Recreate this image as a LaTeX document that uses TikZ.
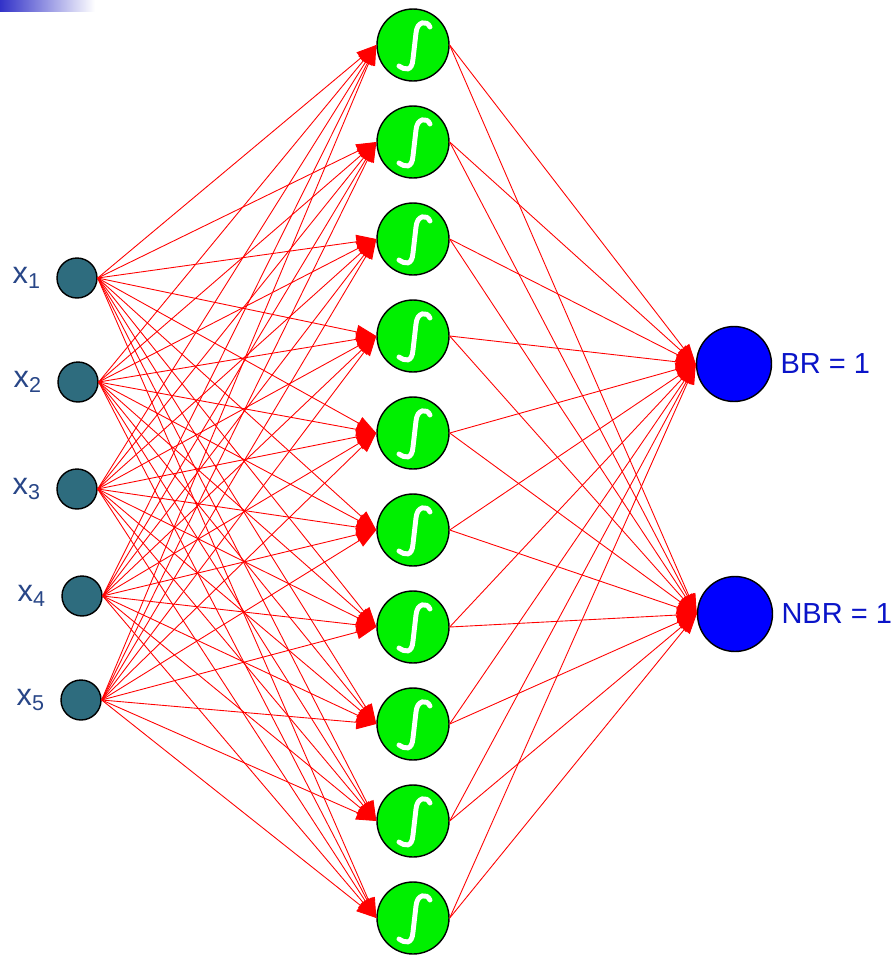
\documentclass[tikz,border=0pt]{standalone}
\usepackage{fontspec}
\setmainfont{Liberation Sans}
\usetikzlibrary{arrows.meta,positioning}

\definecolor{inteal}{RGB}{46,108,126}
\definecolor{inlabel}{RGB}{40,70,135}
\definecolor{hidgreen}{RGB}{0,240,0}
\definecolor{outblue}{RGB}{0,0,255}
\definecolor{outlabel}{RGB}{10,20,200}
\definecolor{barblue}{RGB}{50,50,200}

\begin{document}
\begin{tikzpicture} [
    x=0.02cm, y=-0.02cm,
    input/.style  = { circle, draw, line width=0.8pt, fill=inteal,
                      inner sep=0pt, minimum size=0.8cm },
    hidden/.style = { circle, draw, line width=0.8pt, fill=hidgreen,
                      inner sep=0pt, minimum size=1.44cm },
    output/.style = { circle, draw, line width=0.8pt, fill=outblue,
                      inner sep=0pt, minimum size=1.5cm },
    inlbl/.style  = { text=inlabel, font=\fontsize{17.5}{20}\selectfont, inner sep=0pt },
    outlbl/.style = { text=outlabel, font=\fontsize{16.5}{20}\selectfont, inner sep=0pt },
    sig/.style    = { draw=white, line width=2.8pt, line cap=round },
    line/.style   = { draw=red, line width=0.5pt,
                      -{Triangle[length=4mm, width=2.8mm]} },
  ]
  \useasboundingbox (0,0) rectangle (896,958);
  \shade[left color=barblue, right color=white] (0,0) rectangle (95,11);

  % input layer
  \foreach \i/\x/\y in {1/77/278, 2/78/382, 3/77/489, 4/82/596, 5/81/700} {
    \node[input] (in\i) at (\x,\y) {};
    \node[inlbl, left=3mm of in\i] (x\i) {x\textsubscript{\i}};
  }

  % hidden layer
  \foreach \j in {1,...,10} {
    \node[hidden] (h\j) at (413, {45+97*(\j-1)}) {};
    \draw[sig, shift={(h\j)}] (17,-18) .. controls (14,-25) and (4,-24) .. (3,-12)
      -- (0,14) .. controls (-1,27) and (-8,25) .. (-14,21);
  }

  % output layer
  \node[output] (br) at (734,364) {};
  \node[output] (nbr) at (735,614) {};
  \node[outlbl, right=1.6mm of br] (brlbl) {BR = 1};
  \node[outlbl, right=1.6mm of nbr] (nbrlbl) {NBR = 1};

  % connect the nodes
  \foreach \i in {1,...,5}
    \foreach \j in {1,...,10}
      \path [line] (in\i.east) -- (h\j.west);
  \foreach \j in {1,...,10} {
    \path [line] (h\j.east) -- (br.west);
    \path [line] (h\j.east) -- (nbr.west);
  }
\end{tikzpicture}
\end{document}
